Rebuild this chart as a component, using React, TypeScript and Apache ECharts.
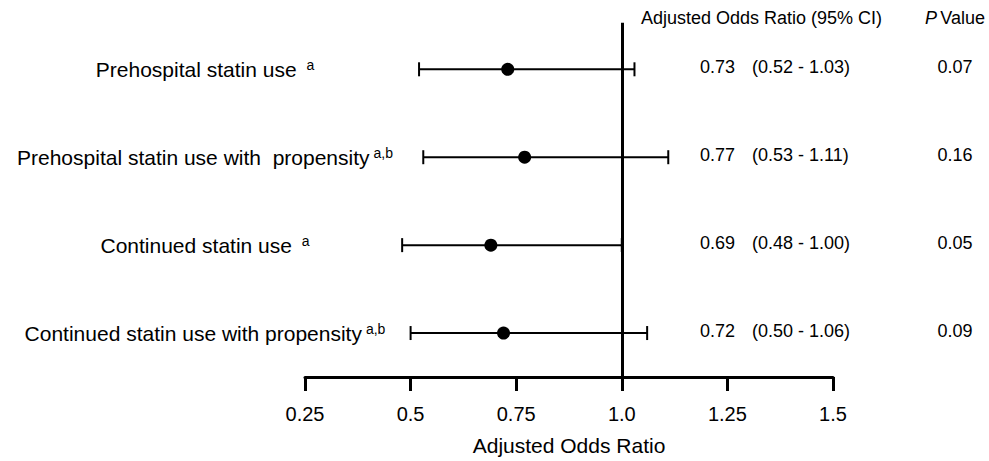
import React, { useEffect, useRef } from 'react';
import * as echarts from 'echarts';

const rowLabels = [
  'Prehospital statin use ',
  'Prehospital statin use with  propensity',
  'Continued statin use ',
  'Continued statin use with propensity',
];
const rowSuperscripts = ['a', 'a,b', 'a', 'a,b'];
const oddsRatios = [0.73, 0.77, 0.69, 0.72];
const lowerCI = [0.52, 0.53, 0.48, 0.5];
const upperCI = [1.03, 1.11, 1.0, 1.06];
const pValues = ['0.07', '0.16', '0.05', '0.09'];
const xTickValues = [0.25, 0.5, 0.75, 1.0, 1.25, 1.5];
const xTickLabels = ['0.25', '0.5', '0.75', '1.0', '1.25', '1.5'];
const referenceValue = 1.0;
const xAxisTitle = 'Adjusted Odds Ratio';
const columnHeaderOR = 'Adjusted Odds Ratio (95% CI)';

const FONT = '"Liberation Sans", Arial, Helvetica, sans-serif';

export default function App() {
  const ref = useRef<HTMLDivElement>(null);

  useEffect(() => {
    if (!ref.current) return;
    const chart = echarts.init(ref.current, null, { renderer: 'svg' });

    const rows = rowLabels.map((_, i) => i);

    chart.setOption({
      animation: false,
      backgroundColor: '#ffffff',
      grid: { left: 305, right: 156, top: 22.7, bottom: 77, containLabel: false },
      xAxis: {
        type: 'value',
        min: xTickValues[0],
        max: xTickValues[xTickValues.length - 1],
        interval: 0.25,
        name: xAxisTitle,
        nameLocation: 'middle',
        nameGap: 58,
        nameTextStyle: { fontFamily: FONT, fontSize: 21, color: '#000' },
        axisLine: { show: true, onZero: false, lineStyle: { color: '#000', width: 3 } },
        axisTick: { show: true, length: 14, inside: false, lineStyle: { color: '#000', width: 3 } },
        axisLabel: {
          margin: 27,
          fontFamily: FONT,
          fontSize: 20,
          color: '#000',
          formatter: (v: number) => {
            const idx = xTickValues.findIndex((t) => Math.abs(t - v) < 1e-9);
            return idx >= 0 ? xTickLabels[idx] : '';
          },
        },
        splitLine: { show: false },
      },
      yAxis: {
        type: 'value',
        inverse: true,
        min: -0.53,
        max: 3.5,
        show: false,
        splitLine: { show: false },
      },
      series: [
        {
          type: 'custom',
          name: 'CI',
          data: rows.map((i) => [lowerCI[i], upperCI[i], i]),
          encode: { x: [0, 1], y: 2 },
          renderItem: (params: any, api: any) => {
            const y = api.value(2);
            const lo = api.coord([api.value(0), y]);
            const hi = api.coord([api.value(1), y]);
            const h = 7;
            const st = { stroke: '#000', lineWidth: 2 };
            return {
              type: 'group',
              children: [
                { type: 'line', shape: { x1: lo[0], y1: lo[1], x2: hi[0], y2: hi[1] }, style: st },
                { type: 'line', shape: { x1: lo[0], y1: lo[1] - h, x2: lo[0], y2: lo[1] + h }, style: st },
                { type: 'line', shape: { x1: hi[0], y1: hi[1] - h, x2: hi[0], y2: hi[1] + h }, style: st },
              ],
            };
          },
          z: 2,
        },
        {
          type: 'scatter',
          name: 'OR',
          data: rows.map((i) => [oddsRatios[i], i]),
          symbol: 'circle',
          symbolSize: 13,
          itemStyle: { color: '#000', opacity: 1 },
          z: 4,
          markLine: {
            silent: true,
            symbol: ['none', 'none'],
            label: { show: false },
            lineStyle: { color: '#000', width: 3, type: 'solid', opacity: 1 },
            data: [{ xAxis: referenceValue }],
          },
        },
      ],
    });

    const graphics: any[] = [];
    rows.forEach((i) => {
      const p = chart.convertToPixel({ gridIndex: 0 }, [xTickValues[0], i]) as number[];
      const y = p[1];
      graphics.push({
        type: 'text',
        x: 205,
        y: y,
        style: {
          text: `{m|${rowLabels[i]}}{s|${rowSuperscripts[i]}}`,
          align: 'center',
          verticalAlign: 'middle',
          fill: '#000',
          rich: {
            m: { fontFamily: FONT, fontSize: 21, lineHeight: 22, fill: '#000' },
            s: { fontFamily: FONT, fontSize: 14, lineHeight: 14, verticalAlign: 'top', padding: [0, 0, 0, 4], fill: '#000' },
          },
        },
      });
      graphics.push({
        type: 'text',
        x: 700,
        y: y - 2,
        style: {
          text: `{or|${oddsRatios[i].toFixed(2)}}{ci|(${lowerCI[i].toFixed(2)} - ${upperCI[i].toFixed(2)})}{p|${pValues[i]}}`,
          align: 'left',
          verticalAlign: 'middle',
          rich: {
            or: { fontFamily: FONT, fontSize: 18, width: 52, fill: '#000' },
            ci: { fontFamily: FONT, fontSize: 18, width: 173, fill: '#000' },
            p: { fontFamily: FONT, fontSize: 18, width: 60, align: 'center', fill: '#000' },
          },
        },
      });
    });
    graphics.push({
      type: 'text',
      x: 641,
      y: 18,
      style: { text: columnHeaderOR, fontFamily: FONT, fontSize: 18, fill: '#000', align: 'left', verticalAlign: 'middle' },
    });
    graphics.push({
      type: 'text',
      x: 925,
      y: 18,
      style: {
        text: '{i|P} {n|Value}',
        align: 'left',
        verticalAlign: 'middle',
        rich: {
          i: { fontFamily: FONT, fontSize: 18, fontStyle: 'italic', fill: '#000' },
          n: { fontFamily: FONT, fontSize: 18, fill: '#000' },
        },
      },
    });
    chart.setOption({ graphic: graphics });

    return () => chart.dispose();
  }, []);

  return (
    <div style={{ position: 'absolute', left: 0, top: 0, width: 989, height: 461, background: '#fff' }}>
      <div ref={ref} style={{ width: 989, height: 461 }} />
    </div>
  );
}
